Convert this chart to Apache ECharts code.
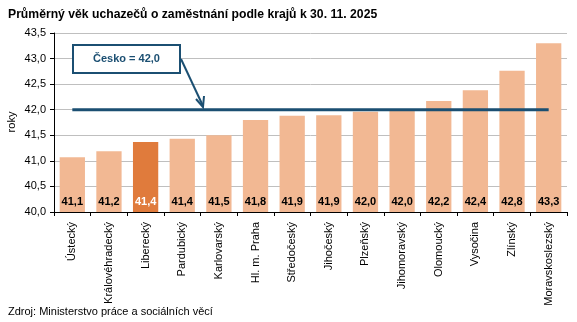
<!DOCTYPE html>
<html><head><meta charset="utf-8">
<script src="https://cdn.jsdelivr.net/npm/echarts@6/dist/echarts.min.js"></script>
<style>html,body{margin:0;padding:0;background:#fff}#c{width:577px;height:322px}</style>
</head><body><div id="c"></div>
<script>
const categories = ['Ústecký','Královéhradecký','Liberecký','Pardubický','Karlovarský','Hl. m. Praha','Středočeský','Jihočeský','Plzeňský','Jihomoravský','Olomoucký','Vysočina','Zlínský','Moravskoslezský'];
const values = [41.07, 41.19, 41.37, 41.43, 41.5, 41.8, 41.88, 41.89, 41.96, 41.99, 42.17, 42.38, 42.76, 43.3];
const highlight = 'Liberecký';
const czAverage = 42.0;
const yTicks = [40.0, 40.5, 41.0, 41.5, 42.0, 42.5, 43.0, 43.5];

const fmt = v => v.toFixed(1).replace('.', ',');
const chart = echarts.init(document.getElementById('c'), null, {renderer:'canvas'});
const FONT = 'Liberation Sans, Arial, sans-serif';
const DARK = '#1B4F72';
chart.setOption({
  animation: false,
  title: {text:'Průměrný věk uchazečů o zaměstnání podle krajů k 30. 11. 2025', left:8, top:9, padding:0,
    textStyle:{fontFamily:FONT, fontSize:12.2, fontWeight:'bold', color:'#000'}},
  grid: {left:54, right:10, top:33, bottom:110, outerBoundsMode:'none', containLabel:false},
  xAxis: {type:'category', data:categories,
    axisLine:{lineStyle:{color:'#000', width:1}},
    axisTick:{show:true, alignWithLabel:false, length:4, lineStyle:{color:'#000'}},
    axisLabel:{rotate:90, fontFamily:FONT, fontSize:11, color:'#000', margin:10, interval:0}},
  yAxis: {type:'value', min:yTicks[0], max:yTicks[yTicks.length-1], interval:0.5,
    axisLine:{show:true, lineStyle:{color:'#000'}},
    axisTick:{show:true, length:4, lineStyle:{color:'#000'}},
    axisLabel:{formatter:v=>fmt(v), fontFamily:FONT, fontSize:11, color:'#000', margin:8},
    splitLine:{lineStyle:{color:'#BFBFBF', width:1}}},
  series: [
    {type:'bar', barCategoryGap:'31%',
     data: values.map((v,i)=>({value:v, itemStyle:{color: categories[i]===highlight ? '#E07B3C' : '#F2B893'},
       label:{color: categories[i]===highlight ? '#fff' : '#000'}})),
     label:{show:true, position:'insideBottom', distance:5, formatter:p=>fmt(p.value),
       fontFamily:FONT, fontSize:11, fontWeight:'bold'}},
    {type:'line', data: categories.map(()=>czAverage), symbol:'none',
     lineStyle:{color:DARK, width:3}, z:5}
  ],
  graphic: [
    {type:'text', x:12, y:122, rotation:Math.PI/2, style:{text:'roky', fill:'#000', font:'11px Liberation Sans, Arial', align:'center', verticalAlign:'middle'}},
    {type:'rect', shape:{x:73, y:45, width:107, height:28}, style:{fill:'#fff', stroke:DARK, lineWidth:2}, z:10},
    {type:'text', x:126.5, y:59, style:{text:'Česko = 42,0', fill:DARK, font:'bold 11px Liberation Sans, Arial', align:'center', verticalAlign:'middle'}, z:11},
    {type:'line', shape:{x1:181, y1:59, x2:203, y2:106}, style:{stroke:DARK, lineWidth:2}, z:10},
    {type:'polyline', shape:{points:[[196,99],[203,107],[204,96]]}, style:{stroke:DARK, lineWidth:2, fill:null}, z:10},
    {type:'text', x:8, y:306, style:{text:'Zdroj: Ministerstvo práce a sociálních věcí', fill:'#000', font:'11px Liberation Sans, Arial'}}
  ]
});
</script></body></html>
